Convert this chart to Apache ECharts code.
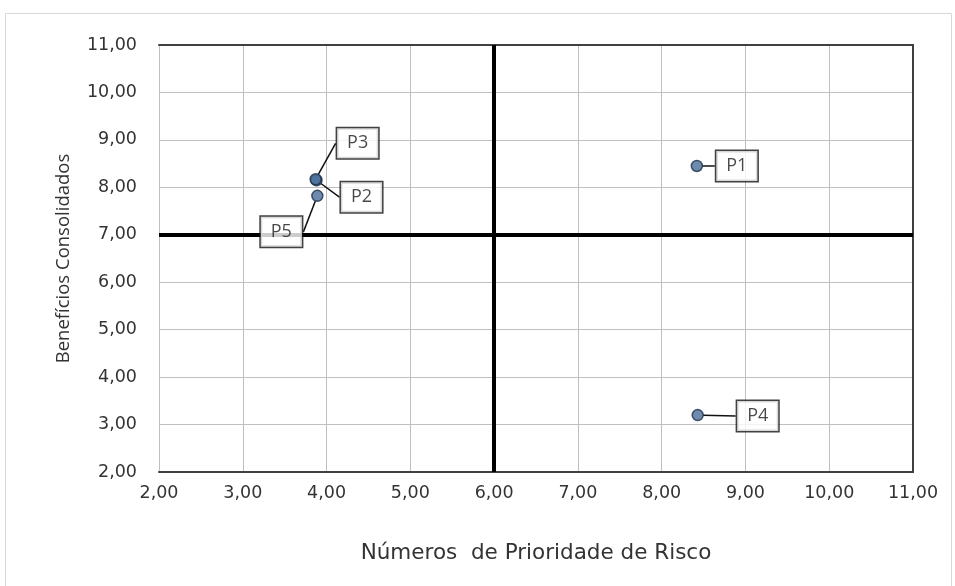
<!DOCTYPE html>
<html>
<head>
<meta charset="utf-8">
<script src="https://cdn.jsdelivr.net/npm/echarts@6/dist/echarts.min.js"></script>
<style>
  html, body { margin: 0; padding: 0; background: #fff; }
  #chart { width: 955px; height: 586px; }
</style>
</head>
<body>
<div id="chart"></div>
<script>
// Projects: risk priority number (x) vs consolidated benefits (y)
const projectNames = ['P1', 'P2', 'P3', 'P4', 'P5'];
const riskPriority = [8.42, 3.88, 3.87, 8.43, 3.89];
const benefits = [8.45, 8.15, 8.17, 3.20, 7.82];

// Quadrant dividers
const riskDivider = 6;
const benefitDivider = 7;

// Callout offsets (px) from each point to its label box
const calloutOffsets = {
  P1: [40, 0],
  P2: [45, 17],
  P3: [42, -36],
  P4: [60, 1],
  P5: [-36, 36]
};

const fmt = v => v.toFixed(2).replace('.', ',');
const font = "'Open Sans', 'DejaVu Sans', sans-serif";
const wideFont = "'DejaVu Sans', sans-serif";

const chart = echarts.init(document.getElementById('chart'));

const points = projectNames.map((n, i) => ({ name: n, value: [riskPriority[i], benefits[i]] }));

chart.setOption({
  animation: false,
  graphic: [{
    type: 'rect',
    shape: { x: 5.5, y: 13.5, width: 946, height: 580 },
    style: { fill: 'none', stroke: '#d9d9d9', lineWidth: 1 },
    silent: true
  }],
  grid: { left: 159, right: 42, top: 45, bottom: 114 },
  xAxis: [{
    type: 'value', min: 2, max: 11, interval: 1,
    name: 'Números  de Prioridade de Risco',
    nameLocation: 'middle', nameGap: 70,
    nameTextStyle: { fontFamily: wideFont, fontSize: 21.5, color: '#333' },
    axisLine: { show: true, lineStyle: { color: '#404040', width: 2 } },
    axisTick: { show: false },
    axisLabel: { formatter: fmt, fontFamily: wideFont, fontSize: 17.5, color: '#333', margin: 12 },
    splitLine: { show: true, lineStyle: { color: '#bfbfbf', width: 1 } }
  }, {
    type: 'value', min: 2, max: 11, position: 'top',
    axisLine: { show: true, lineStyle: { color: '#404040', width: 2 } },
    axisTick: { show: false }, axisLabel: { show: false }, splitLine: { show: false }
  }],
  yAxis: [{
    type: 'value', min: 2, max: 11, interval: 1,
    name: 'Benefícios Consolidados',
    nameLocation: 'middle', nameGap: 86,
    nameTextStyle: { fontFamily: font, fontSize: 18.5, color: '#333' },
    axisLine: { show: true, lineStyle: { color: '#bfbfbf', width: 1 } },
    axisTick: { show: false },
    axisLabel: { formatter: fmt, fontFamily: wideFont, fontSize: 17.5, color: '#333', margin: 22 },
    splitLine: { show: true, lineStyle: { color: '#bfbfbf', width: 1 } }
  }, {
    type: 'value', min: 2, max: 11, position: 'right',
    axisLine: { show: true, lineStyle: { color: '#404040', width: 2 } },
    axisTick: { show: false }, axisLabel: { show: false }, splitLine: { show: false }
  }],
  series: [{
    type: 'scatter',
    data: points,
    symbol: 'circle',
    symbolSize: 11,
    itemStyle: { color: '#4a6e9a', borderColor: '#1c2f48', borderWidth: 1.5 },
    label: {
      show: true,
      position: 'inside',
      formatter: p => p.name,
      fontFamily: font,
      fontSize: 18,
      color: '#1a1a1a',
      backgroundColor: '#fff',
      borderColor: '#111',
      borderWidth: 1.5,
      padding: [7, 10, 5, 10]
    },
    labelLine: { show: true, lineStyle: { color: '#111', width: 1.5 } },
    labelLayout: params => {
      const off = calloutOffsets[projectNames[params.dataIndex]];
      return { dx: off[0], dy: off[1] };
    },
    markLine: {
      silent: true,
      symbol: 'none',
      label: { show: false },
      lineStyle: { color: '#000', width: 4, type: 'solid' },
      data: [{ xAxis: riskDivider }, { yAxis: benefitDivider }]
    },
    z: 5
  }]
});
</script>
</body>
</html>
